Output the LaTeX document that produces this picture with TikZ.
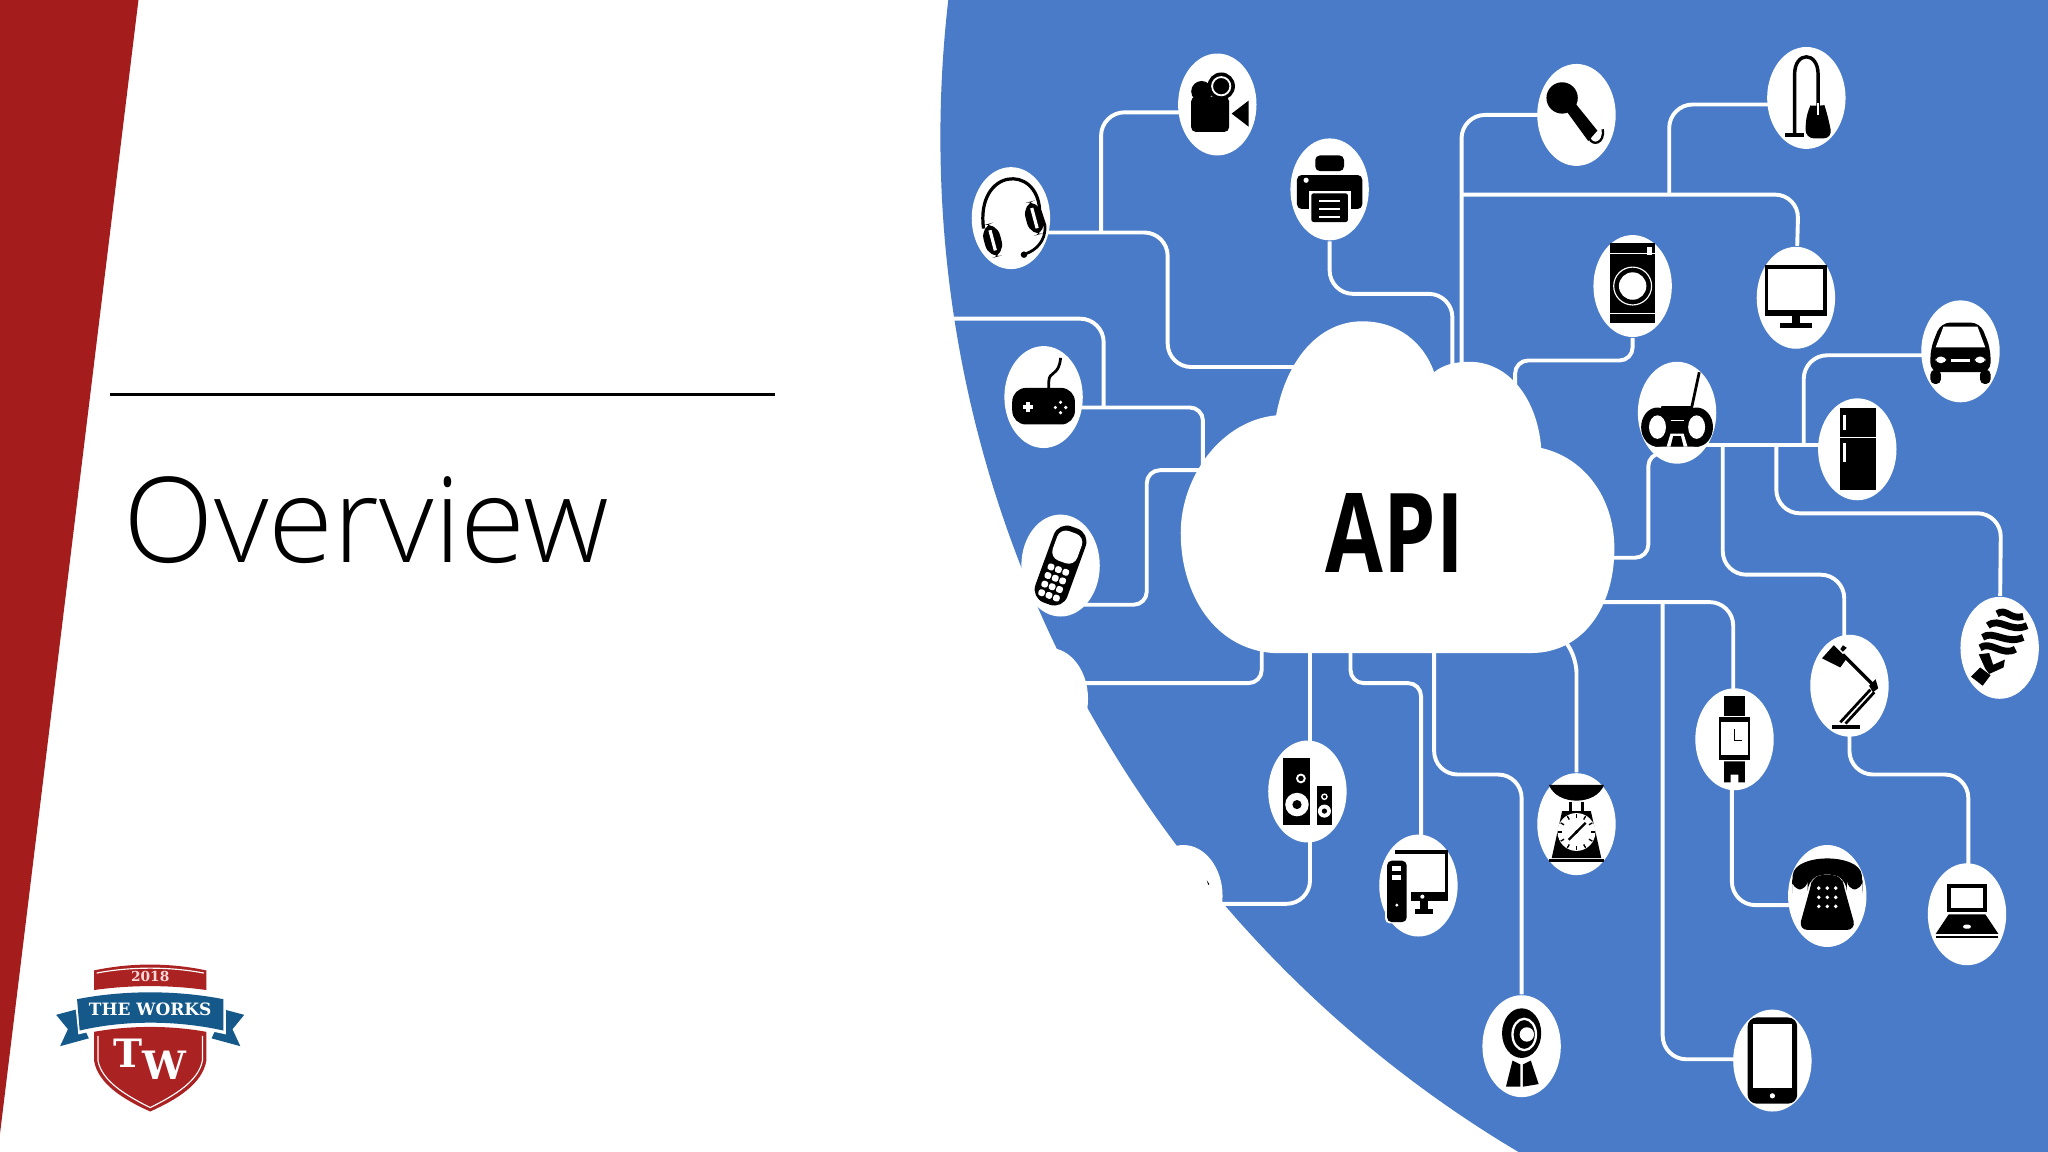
\documentclass[tikz,border=0pt]{standalone}
\usepackage{fontspec}
\setmainfont{Open Sans}
\newfontfamily\titlefont{Open Sans Light}
\newfontfamily\crestfont{DejaVu Serif}
\usetikzlibrary{shapes.geometric}
\definecolor{slideblue}{HTML}{4A7BC8}
\definecolor{sliderred}{HTML}{A51C1C}
\definecolor{crestred}{HTML}{AA2222}
\definecolor{crestblue}{HTML}{14598A}
\tikzset{
  device/.style={ellipse, fill=white, inner sep=0pt, minimum width=0.6cm, minimum height=0.78cm},
  wire/.style={draw=white, line width=0.85pt, rounded corners=0.18cm},
  wireS/.style={draw=white, line width=0.85pt, rounded corners=0.1cm},
  thinw/.style={draw=white, line width=0.25pt}
}
\begin{document}
\begin{tikzpicture}[x=0.01cm, y=-0.01cm]
  \useasboundingbox (0,0) rectangle (1568,882);
  \clip (0,0) rectangle (1568,882);
  \fill[white] (0,0) rectangle (1568,882);
  % red wedge and title
  \fill[sliderred] (0,0) -- (106,0) -- (0,868) -- cycle;
  \draw[black, line width=0.6pt] (84,302) -- (593,302);
  \node[anchor=west, inner sep=0pt, font=\titlefont\fontsize{25.8}{30}\selectfont] (title) at (94,398) {Overview};
  % blue disc
  \fill[slideblue] (1623,105) circle (903);
  % devices
  \foreach \name/\x/\y in {camera/932/80, printer/1018/145, headset/774/167, mic/1207/88,
    vacuum/1383/75, washer/1250/219, tv/1375/228, car/1501/269, radio/1284/316,
    fridge/1422/344, gamepad/799/304, mobile/812/433, speakers/1001/606, desktop/1086/678,
    weigher/1207/631, webcam/1165/801, watch/1328/566, lamp/1416/525, bulb/1531/496,
    telephone/1399/686, laptop/1506/700, tablet/1357/812, lostA/803/535, lostB/906/686} {
    \node[device] (\name) at (\x,\y) {};
  }
  % free ends and junctions
  \coordinate (hubA) at (843,178);
  \coordinate (hubB) at (1119,149);
  \coordinate (hubC) at (1319,341);
  \coordinate (hubD) at (1360,341);
  \coordinate (hubE) at (1381,341);
  \coordinate (hubF) at (1273,461);
  \coordinate (hubG) at (845,312);
  \coordinate (edge) at (730,244);
  % wires
  \draw[wire] (camera |- 0,86) -| (hubA);
  \draw[wire] (headset |- hubA) -- (894,178) -- (894,281) -- (1000,281);
  \draw[wire] (printer) -- (1018,225) -- (1112,225) -- (1112,290);
  \draw[wire] (mic |- 0,88) -- (1119,88) -- (1119,290);
  \draw[wire] (hubB) -- (1377,149) -- (tv);
  \draw[wire] (vacuum |- 0,80) -- (1278,80) -- (1278,149);
  \draw[wireS] (washer) -- (1250,276) -- (1160,276) -- (1160,300);
  \draw[wire] (car |- 0,272) -- (1381,272) -- (hubE);
  \draw[wire] (radio |- hubC) -- (fridge |- hubC);
  \draw[wireS] (radio |- 0,347) -- (1262,347) -- (1262,427) -- (1225,427);
  \draw[wire] (hubC) -- (1319,440) -- (1412,440) -- (1412,525);
  \draw[wire] (hubD) -- (1360,393) -- (1532,393) -- (bulb);
  \draw[wire] (1215,461) -- (1327,461) -- (1327,566);
  \draw[wire] (hubF) -- (1273,811) -- (tablet |- 0,811);
  \draw[wire] (1326,566) -- (1326,693) -- (telephone |- 0,693);
  \draw[wire] (1416,525) -- (1416,593) -- (1507,593) -- (1507,700);
  \draw[wireS] (1195,485) -- (1207,505) -- (weigher);
  \draw[wire] (1098,490) -- (1098,593) -- (1165,593) -- (webcam);
  \draw[wireS] (1034,490) -- (1034,523) -- (1088,523) -- (1088,678);
  \draw[wire] (1003,490) -- (1003,692) -- (lostB |- 0,692);
  \draw[wireS] (966,490) -- (966,523) -- (lostA |- 0,523);
  \draw[wireS] (gamepad |- hubG) -- (921,312) -- (921,360);
  \draw[wireS] (mobile |- 0,463) -- (878,463) -- (878,360) -- (925,360);
  \draw[wire] (edge) -- (845,244) -- (hubG);
  % cloud
  \fill[white] (975,500) .. controls (930,497) and (904,455) .. (904,408)
    .. controls (904,365) and (935,322) .. (977,318)
    .. controls (985,275) and (1010,246) .. (1043,246)
    .. controls (1070,246) and (1090,262) .. (1098,285)
    .. controls (1105,279) and (1115,277) .. (1125,277)
    .. controls (1155,277) and (1177,305) .. (1180,343)
    .. controls (1212,350) and (1236,380) .. (1236,420)
    .. controls (1236,465) and (1212,500) .. (1172,500) -- cycle;
  \node[font=\bfseries\fontsize{24}{26}\selectfont, inner sep=0pt, xscale=0.76, transform shape] (api) at (1068,408) {API};
  % camera
  \begin{scope}[shift={(camera)}]
    \fill[rounded corners=1pt] (-20,-6) rectangle (9,21);
    \fill (11,7) -- (24,-3) -- (24,17) -- cycle;
    \fill (-12,-10) circle (8);
    \fill (3,-14) circle (10.5);
    \draw[thinw, line width=0.4pt] (3,-14) circle (7);
  \end{scope}
  % printer
  \begin{scope}[shift={(printer)}]
    \fill[rounded corners=1pt] (-11,-26) rectangle (11,-14);
    \fill[rounded corners=1pt] (-25,-11) rectangle (25,15);
    \fill[white] (-16,1) rectangle (16,27);
    \fill[rounded corners=0.5pt] (-14,3) rectangle (14,25);
    \fill[white] (-18,-7) circle (2);
    \foreach \y in {8,14,20} \fill[white] (-8,\y) rectangle (8,\y+2);
  \end{scope}
  % headset
  \begin{scope}[shift={(headset)}]
    \draw[line width=0.7pt] (-21,8) .. controls (-27,-38) and (20,-42) .. (22,-6) -- (26,6);
    \draw[line width=0.6pt] (26,6) .. controls (27,18) and (18,25) .. (12,27);
    \fill (10,28) circle (2.5);
    \fill[rotate around={15:(-14,17)}, rounded corners=3pt] (-20.5,4) rectangle (-7.5,30);
    \fill[rotate around={15:(18,0)}, rounded corners=3pt] (11.5,-13) rectangle (24.5,13);
    \draw[white, line width=0.7pt, rotate around={15:(-14,17)}] (-14,9) -- (-14,25);
    \draw[white, line width=0.7pt, rotate around={15:(18,0)}] (18,-8) -- (18,8);
  \end{scope}
  % microphone
  \begin{scope}[shift={(mic)}]
    \fill (-11,-13) circle (12);
    \fill (-7,-2) -- (-1,-9) -- (16,12) -- (9,20) -- cycle;
    \draw[line width=0.5pt] (20,11) .. controls (22,22) and (12,24) .. (10,18);
  \end{scope}
  % vacuum
  \begin{scope}[shift={(vacuum)}]
    \draw[line width=0.75pt] (-9,27) -- (-9,-18) .. controls (-9,-36) and (9,-36) .. (9,-18) -- (9,10);
    \fill (-16,27) rectangle (-2,30);
    \fill[rounded corners=2pt] (-1,31) -- (0,12) .. controls (3,6) and (14,6) .. (16,12) -- (20,31) -- cycle;
    \draw[thinw, line width=0.4pt] (9,4) -- (9,13);
  \end{scope}
  % washer
  \begin{scope}[shift={(washer)}]
    \fill (-17,-33) rectangle (17,28);
    \draw[thinw] (-17,-25) -- (17,-25);
    \draw[thinw] (-17,21) -- (17,21);
    \fill[white] (0,0) circle (10.5);
    \draw[thinw] (0,0) circle (14.5);
    \fill[white] (11,-30) rectangle (15,-24);
  \end{scope}
  % television
  \begin{scope}[shift={(tv)}]
    \fill (-24,-25) rectangle (24,14);
    \fill[white] (-21,-22) rectangle (21,9);
    \fill (-3,14) rectangle (3,19);
    \fill (-12,19) rectangle (12,23);
  \end{scope}
  % car
  \begin{scope}[shift={(car)}]
    \fill[rounded corners=2pt] (-23,16) -- (-23,-2) -- (-15,-22) -- (15,-22) -- (23,-2) -- (23,16) -- cycle;
    \fill[white] (-19,-3) -- (-13,-19) -- (13,-19) -- (19,-3) -- cycle;
    \fill[rounded corners=1pt] (-23,14) rectangle (-15,25);
    \fill[rounded corners=1pt] (15,14) rectangle (23,25);
    \fill[white, rounded corners=1pt] (-19,4) rectangle (-11,9);
    \fill[white, rounded corners=1pt] (11,4) rectangle (19,9);
    \fill[white] (-7,6) rectangle (7,8);
  \end{scope}
  % radio
  \begin{scope}[shift={(radio)}]
    \fill (-12,-5) -- (12,-5) -- (17,26) -- (-17,26) -- cycle;
    \fill (-15,11) ellipse (12.5 and 15);
    \fill (15,11) ellipse (12.5 and 15);
    \fill[white] (-15,11) ellipse (6.5 and 9);
    \fill[white] (15,11) ellipse (6.5 and 9);
    \draw[white, line width=0.3pt] (-5,6) -- (5,6);
    \fill[white] (-8,26) -- (-5,16) -- (5,16) -- (8,26) -- cycle;
    \fill (-5,26) -- (-3,18) -- (3,18) -- (5,26) -- cycle;
    \draw[line width=0.6pt] (11,-3) -- (17,-31);
  \end{scope}
  % fridge
  \begin{scope}[shift={(fridge)}]
    \fill (-13,-32) rectangle (14,31);
    \draw[thinw] (-13,-9) -- (14,-9);
    \fill[white] (-11,-26) rectangle (-9,-15);
    \fill[white] (-11,-5) rectangle (-9,10);
  \end{scope}
  % gamepad
  \begin{scope}[shift={(gamepad)}]
    \fill[rounded corners=3pt] (-24,-7) rectangle (24,21);
    \draw[line width=0.6pt] (4,-7) -- (4,-12) .. controls (4,-20) and (12,-16) .. (13,-30);
    \fill[white] (-16,6) rectangle (-8,9);
    \fill[white] (-13.5,3.5) rectangle (-10.5,11.5);
    \foreach \a/\b in {13/4, 17/8, 13/12, 9/8} \fill[white] (\a,\b) circle (1.4);
  \end{scope}
  % mobile phone
  \begin{scope}[shift={(mobile)}, rotate=-20]
    \fill[rounded corners=3pt] (-13,-31) rectangle (13,31);
    \fill[white, rounded corners=2pt] (-10,-27) rectangle (10,-3);
    \foreach \a in {-9,-3,3} \foreach \b in {1,8,15,22} \fill[white, rounded corners=0.5pt] (\a,\b) rectangle (\a+5,\b+5);
  \end{scope}
  % speck left of the lost picture
  \fill (924,674) -- (926,677) -- (925,677.5) -- cycle;
  % speakers
  \begin{scope}[shift={(speakers)}]
    \fill (-19,-26) rectangle (2,26);
    \fill (7,-4) rectangle (19,26);
    \fill[white] (-8,10) circle (9);
    \fill (-8,10) circle (3.5);
    \draw[thinw, line width=0.4pt] (-5,-10) circle (3);
    \fill[white] (13,15) circle (5);
    \fill (13,15) circle (2);
    \draw[thinw, line width=0.3pt] (13,4) circle (2);
  \end{scope}
  % desktop
  \begin{scope}[shift={(desktop)}]
    \fill (-18,-27) rectangle (23,-24);
    \fill (20.5,-27) rectangle (23,11);
    \fill (-6,5) rectangle (23,12);
    \fill (1,12) rectangle (7,19);
    \fill (-3,18) rectangle (11,22);
    \fill[white] (3,8.5) circle (1.6);
    \fill[white, rounded corners=1pt] (-25.5,-20.5) rectangle (-7.5,29);
    \fill[rounded corners=1pt] (-24,-19) rectangle (-9,28);
    \fill[white] (-20,-15) rectangle (-13,-11);
    \fill[white] (-20,-8) rectangle (-13,-4);
    \fill[white] (-16.5,15) circle (1.3);
  \end{scope}
  % scale
  \begin{scope}[shift={(weigher)}]
    \fill (-21,-30) .. controls (-15,-14) and (15,-14) .. (21,-30) -- cycle;
    \fill (-6,-17) rectangle (-3.5,-9);
    \fill (3.5,-17) rectangle (6,-9);
    \fill (-11,-10) -- (11,-10) -- (19,26) -- (-19,26) -- cycle;
    \fill (-21,27) rectangle (21,29);
    \fill[white] (0,6) circle (14.5);
    \foreach \a in {0,30,...,330} \draw[line width=0.3pt] (0,6)++(\a:11) -- ++(\a:3);
    \draw[line width=0.5pt] (-6,12) -- (7,-1);
    \fill (0,6) circle (1.5);
  \end{scope}
  % webcam
  \begin{scope}[shift={(webcam)}]
    \fill (0,-10) ellipse (15 and 19);
    \draw[white, line width=0.5pt] (2,-9) ellipse (9 and 12);
    \fill[white] (4,-9) circle (5.5);
    \fill (-12,31) -- (-7,11) -- (-1,14) -- (-1,31) -- cycle;
    \fill (1,14) -- (7,11) -- (13,29) -- (1,31) -- cycle;
  \end{scope}
  % watch
  \begin{scope}[shift={(watch)}]
    \fill (-8,-33) rectangle (8,-18);
    \fill (-8,17) -- (8,17) -- (8,33) -- (3,33) -- (3,27) -- (-3,27) -- (-3,33) -- (-8,33) -- cycle;
    \fill (-12,-17) rectangle (12,16);
    \fill[white] (-10,-13) rectangle (10,12);
    \draw[line width=0.4pt] (0,-8) -- (0,1) -- (6,1);
  \end{scope}
  % lamp
  \begin{scope}[shift={(lamp)}]
    \fill (-21,-21) -- (-12,-31) -- (-2,-21) -- (-7,-14) -- cycle;
    \fill (-5,-31) -- (-2,-29) -- (-5,-26) -- (-7,-28) -- cycle;
    \draw[line width=0.6pt] (-5,-24) -- (18,-1);
    \draw[line width=0.6pt] (-3,-21.5) -- (20,1.5);
    \fill (15,0) -- (20,-5) -- (22,2) -- (18,5) -- cycle;
    \draw[line width=0.6pt] (16,3) -- (-7,28);
    \draw[line width=0.6pt] (19,5) -- (-3,29);
    \fill (-13,30) rectangle (8,33);
  \end{scope}
  % bulb
  \begin{scope}[shift={(bulb)}]
    \draw[line width=1.5pt] (-2,-26) .. controls (5,-31) and (8,-21) .. (18,-24);
    \draw[line width=1.5pt] (-9,-17) .. controls (0,-24) and (8,-11) .. (21,-17);
    \draw[line width=1.5pt] (-13,-8) .. controls (-5,-14) and (5,-2) .. (18,-8);
    \draw[line width=1.5pt] (-15,0) .. controls (-7,-6) and (2,7) .. (12,1);
    \fill (-16,5) -- (-8,4) -- (-5,13) -- (4,9) -- (3,15) -- (-8,20) -- (-11,16) -- cycle;
    \fill (-15,15) -- (-7,21) -- (-13,29) -- (-22,22) -- cycle;
  \end{scope}
  % telephone
  \begin{scope}[shift={(telephone)}]
    \fill[rounded corners=2pt] (-27,-9) .. controls (-25,-33) and (25,-33) .. (27,-9) -- (27,-5) -- (15,-5) -- (15,-11) .. controls (5,-17) and (-5,-17) .. (-15,-11) -- (-15,-5) -- (-27,-5) -- cycle;
    \fill[rounded corners=2pt] (-11,-16) -- (11,-16) -- (12,-10) -- (22,26) -- (-22,26) -- (-12,-10) -- cycle;
    \foreach \a in {-6.5,0,6.5} \foreach \b in {-6,1,8} \fill[white] (\a,\b) circle (1.5);
  \end{scope}
  % laptop
  \begin{scope}[shift={(laptop)}]
    \fill (-15,-23) rectangle (15,-2);
    \fill[white] (-12.5,-20.5) rectangle (12.5,-4.5);
    \fill (-14,0) -- (14,0) -- (24,15) -- (-24,15) -- cycle;
    \fill (-24,17) rectangle (24,18.5);
    \fill[white, rounded corners=0.5pt] (-3,8) rectangle (3,11);
  \end{scope}
  % tablet
  \begin{scope}[shift={(tablet)}]
    \fill[rounded corners=2pt] (-19,-33) rectangle (19,33);
    \fill[white] (-15,-28) rectangle (15,21);
    \fill[white] (0,27) circle (2);
  \end{scope}
  % crest
  \fill[crestblue] (43,777) -- (58,773) -- (68,795) -- (46,801) -- (52,788) -- cycle;
  \fill[crestblue] (187,777) -- (172,773) -- (162,795) -- (184,801) -- (178,788) -- cycle;
  \fill[crestred] (72,743) .. controls (100,737) and (130,737) .. (158,743) -- (158,758) .. controls (130,754) and (100,754) .. (72,758) -- cycle;
  \draw[white, line width=0.25pt] (74,745) .. controls (100,740) and (130,740) .. (156,745);
  \fill[crestred] (72,790) .. controls (100,785) and (130,785) .. (158,790) -- (158,812) .. controls (155,830) and (135,842) .. (115,851) .. controls (95,842) and (75,830) .. (72,812) -- cycle;
  \draw[white, line width=0.25pt] (75,793) -- (75,812) .. controls (78,828) and (97,839) .. (115,848) .. controls (133,839) and (152,828) .. (155,812) -- (155,793);
  \fill[white] (57,763) .. controls (95,756) and (135,756) .. (173,763) -- (173,792) .. controls (135,783) and (95,783) .. (60,792) -- cycle;
  \fill[crestblue] (59,765) .. controls (95,758) and (135,758) .. (171,765) -- (171,789) .. controls (135,781) and (95,781) .. (61,789) -- cycle;
  \node[text=white!85!red, font=\crestfont\bfseries\fontsize{3}{4}\selectfont, inner sep=0pt] (year) at (115,748) {2018};
  \node[text=white, font=\crestfont\bfseries\fontsize{3.7}{5}\selectfont, inner sep=0pt] (works) at (115,773) {THE WORKS};
  \node[text=white, font=\crestfont\bfseries\fontsize{8.5}{10}\selectfont, inner sep=0pt] (letters) at (115,811) {T\raisebox{-2.5pt}{W}};
\end{tikzpicture}
\end{document}
